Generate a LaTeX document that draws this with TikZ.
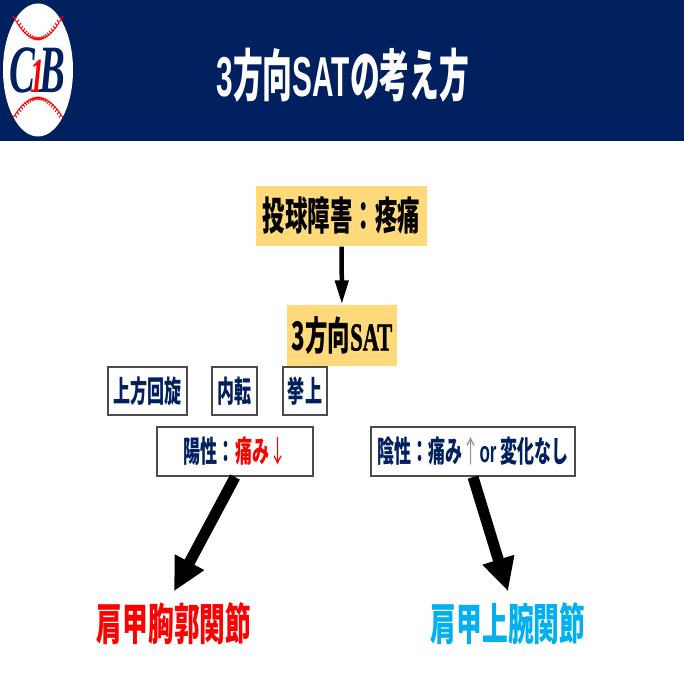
\documentclass[tikz,border=0pt]{standalone}
\usepackage{graphicx}
\usepackage{xcolor}
\usepackage{fontspec}
\setmainfont{Liberation Serif}
\newfontfamily\jpfont{Noto Sans CJK JP}
\newfontfamily\latinfont{Liberation Sans}
\newfontfamily\satfont[UprightFont=* Bold, FakeBold=1.5]{Liberation Serif}
\usetikzlibrary{arrows.meta}
\definecolor{navy}{HTML}{002060}
\definecolor{paleyellow}{HTML}{FFD97A}
\definecolor{skyblue}{HTML}{00B0F0}
\newcommand{\narrow}[1]{\scalebox{0.57}[1]{#1}}

\tikzset{
  yellowbox/.style={fill=paleyellow, inner sep=0pt, font=\jpfont\bfseries},
  whitebox/.style={draw=black!70, semithick, fill=white, inner sep=0pt, text=navy, font=\jpfont\bfseries\fontsize{8.5}{10}\selectfont},
  joint/.style={font=\jpfont\bfseries\fontsize{12.5}{14}\selectfont, inner sep=0pt, minimum height=0.64cm},
  bigarrow/.style={line width=0.11cm, -{Triangle[length=0.33cm, width=0.31cm]}},
  stitch/.style={draw=red, line width=0.01cm},
}

\begin{document}
\begin{tikzpicture}
  \useasboundingbox (0, 0) rectangle (6.84, 6.84);
  \fill[white] (0, 0) rectangle (6.84, 6.84);

  % Header
  \fill[navy] (0, 5.43) rectangle (6.84, 6.84);
  \node[text=white, font=\latinfont\bfseries\fontsize{16}{18}\selectfont] (title) at (3.43, 6.09)
     {\scalebox{0.53}[1]{3{\jpfont\bfseries 方向}SAT{\jpfont\bfseries の考え方}}};

  % Logo
  \fill[white] (0.38, 6.14) ellipse (0.35 and 0.665);
  \foreach \x in {-0.23, -0.21, ..., 0.24} {
    \pgfmathsetmacro{\ytop}{6.44 + 4.0*\x*\x}
    \pgfmathsetmacro{\ybot}{5.87 - 3.4*\x*\x}
    \draw[stitch] (0.38+\x-0.02, \ytop+0.025) -- (0.38+\x, \ytop) -- (0.38+\x+0.02, \ytop+0.025);
    \draw[stitch] (0.38+\x-0.02, \ybot-0.025) -- (0.38+\x, \ybot) -- (0.38+\x+0.02, \ybot-0.025);
  }
  \node[text=navy, font=\itshape\bfseries\fontsize{11}{11}\selectfont, inner sep=0pt] (logo) at (0.375, 6.14)
     {\scalebox{1}[1.75]{C\kern-0.12em\textcolor{red}{\fontsize{8}{8}\selectfont 1}\kern-0.12em B}};

  % Top boxes
  \node[yellowbox, minimum width=1.71cm, minimum height=0.6cm] (pain) at (3.415, 6.84-2.16)
     {\fontsize{11.2}{13}\selectfont\narrow{投球障害：疼痛}};
  \node[yellowbox, minimum width=1.10cm, minimum height=0.61cm] (sat) at (3.42, 6.84-3.355)
     {\fontsize{11.2}{13}\selectfont\narrow{3方向{\satfont SAT}}};

  % Direction labels
  \node[whitebox, minimum width=0.79cm, minimum height=0.48cm] (rotup) at (1.475, 6.84-3.91) {\narrow{上方回旋}};
  \node[whitebox, minimum width=0.45cm, minimum height=0.48cm] (rotin) at (2.345, 6.84-3.91) {\narrow{内転}};
  \node[whitebox, minimum width=0.44cm, minimum height=0.48cm] (lift) at (3.05, 6.84-3.91) {\narrow{挙上}};

  % Results
  \node[whitebox, minimum width=1.56cm, minimum height=0.49cm] (yang) at (2.35, 6.84-4.515)
     {\narrow{陽性：\textcolor{red}{痛み{\mdseries ↓}}}};
  \node[whitebox, minimum width=2.04cm, minimum height=0.49cm] (yin) at (4.73, 6.84-4.515)
     {\narrow{陰性：痛み\textcolor{navy!50}{\mdseries ↑}{\latinfont\bfseries or} 変化なし}};

  % Joints
  \node[joint, text=red] (scap) at (1.74, 6.84-6.24) {\scalebox{0.585}[1]{肩甲胸郭関節}};
  \node[joint, text=skyblue] (gleno) at (5.08, 6.84-6.24) {\scalebox{0.585}[1]{肩甲上腕関節}};

  % Arrows
  \draw[line width=0.045cm, -{Triangle[length=0.24cm, width=0.13cm]}] (pain) -- (sat);
  \draw[bigarrow] (yang.south) -- (scap.north);
  \draw[bigarrow] (yin.south) -- (gleno.north);
\end{tikzpicture}
\end{document}
